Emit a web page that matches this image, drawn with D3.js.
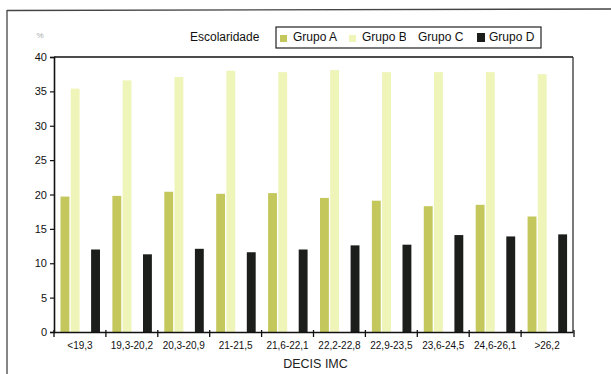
<!DOCTYPE html>
<html><head><meta charset="utf-8">
<script src="https://cdn.jsdelivr.net/npm/d3@7"></script>
<style>body{margin:0;background:#fff}svg{display:block;font-family:"Liberation Sans",Arial,sans-serif}</style>
</head><body><svg id="c" width="611" height="374"></svg>
<script>
const categories = ["<19,3","19,3-20,2","20,3-20,9","21-21,5","21,6-22,1","22,2-22,8","22,9-23,5","23,6-24,5","24,6-26,1",">26,2"];
const groups = ["Grupo A","Grupo B","Grupo C","Grupo D"];
const grupoA = [19.7,19.8,20.4,20.1,20.2,19.5,19.1,18.3,18.5,16.8];
const grupoB = [35.4,36.6,37.1,38.0,37.8,38.1,37.8,37.8,37.8,37.5];
const grupoC = [32.9,32.3,30.4,30.3,30.0,29.8,30.4,29.8,29.8,31.5];
const grupoD = [12.0,11.3,12.1,11.6,12.0,12.6,12.7,14.1,13.9,14.2];
const yTicks = [0,5,10,15,20,25,30,35,40];
const colors = {"Grupo A":"#c4c85c","Grupo B":"#eff4b8","Grupo C":"#ffffff","Grupo D":"#1b1e1b"};
const series = {"Grupo A":grupoA,"Grupo B":grupoB,"Grupo C":grupoC,"Grupo D":grupoD};

const svg = d3.select("#c");
const L=54, R=573, T=57, B=332;
const x0 = d3.scaleBand().domain(categories).range([L,R]).padding(0);
const bw = x0.bandwidth();
const x1 = d3.scaleBand().domain(groups).range([bw*0.125, bw*0.886]).paddingInner(0.13);
const y = d3.scaleLinear().domain([0,40]).range([B,T]);

// outer frame (scan)
svg.append("line").attr("x1",7).attr("x2",611).attr("y1",10.5).attr("y2",9).attr("stroke","#444").attr("stroke-width",1.3);
svg.append("line").attr("x1",7).attr("x2",7).attr("y1",10).attr("y2",374).attr("stroke","#444").attr("stroke-width",1.3);
svg.append("text").attr("x",40).attr("y",38).attr("font-size",8).attr("fill","#aaa").attr("text-anchor","middle").text("%");

// bars
const gCat = svg.append("g").selectAll("g").data(categories).join("g")
  .attr("transform",d=>`translate(${x0(d)},0)`);
gCat.selectAll("rect").data((d,i)=>groups.map(g=>({g,v:series[g][i]}))).join("rect")
  .attr("x",d=>x1(d.g)).attr("width",x1.bandwidth())
  .attr("y",d=>y(d.v)).attr("height",d=>B-y(d.v))
  .attr("fill",d=>colors[d.g]);

// plot box top/right
svg.append("line").attr("x1",L).attr("x2",R).attr("y1",T).attr("y2",T).attr("stroke","#111").attr("stroke-width",1.5);
svg.append("line").attr("x1",R).attr("x2",R).attr("y1",T).attr("y2",B).attr("stroke","#333").attr("stroke-width",1.3);

// y axis
const ya = svg.append("g").attr("transform",`translate(${L},0)`)
  .call(d3.axisLeft(y).tickValues(yTicks).tickSize(4).tickPadding(3));
ya.select(".domain").attr("stroke","#111").attr("stroke-width",1.6);
ya.selectAll(".tick line").attr("stroke","#111").attr("stroke-width",1.2);
ya.selectAll("text").attr("font-size",11).attr("fill","#111").attr("font-family","Liberation Sans, Arial, sans-serif");

// x axis
const xa = svg.append("g").attr("transform",`translate(0,${B})`)
  .call(d3.axisBottom(x0).tickSize(0).tickPadding(10));
xa.select(".domain").attr("stroke","#111").attr("stroke-width",1.6);
xa.selectAll("text").attr("font-size",10).attr("fill","#111").attr("font-family","Liberation Sans, Arial, sans-serif");
const bounds = categories.map(c=>x0(c)).concat([R+1]);
svg.append("g").selectAll("line").data(bounds).join("line")
  .attr("x1",d=>d).attr("x2",d=>d).attr("y1",B-2).attr("y2",B+5)
  .attr("stroke","#111").attr("stroke-width",1.3);

svg.append("text").attr("x",(L+R)/2+2).attr("y",368).attr("text-anchor","middle")
  .attr("font-size",12.5).attr("fill","#222").text("DECIS IMC");

// legend
svg.append("text").attr("x",190).attr("y",41).attr("font-size",12).attr("fill","#111").text("Escolaridade");
svg.append("rect").attr("x",276).attr("y",27).attr("width",265).attr("height",21)
  .attr("fill","none").attr("stroke","#222").attr("stroke-width",1.2);
const legPos = {"Grupo A":[280,293],"Grupo B":[349,362],"Grupo C":[406,418],"Grupo D":[477,489]};
groups.forEach(g=>{
  const p = legPos[g];
  svg.append("rect").attr("x",p[0]).attr("y",g==="Grupo D"?33:35).attr("width",g==="Grupo D"?8:7).attr("height",g==="Grupo D"?9:7)
    .attr("fill",colors[g]);
  svg.append("text").attr("x",p[1]).attr("y",41).attr("font-size",12).attr("fill","#111").text(g);
});
</script></body></html>
